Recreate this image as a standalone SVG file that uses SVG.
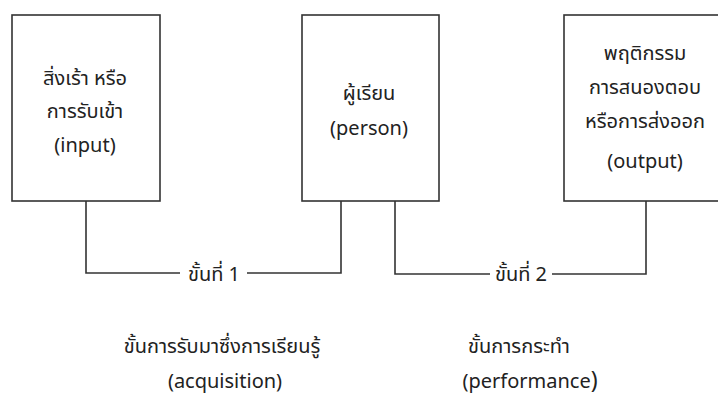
<svg xmlns="http://www.w3.org/2000/svg" width="718" height="398" viewBox="0 0 718 398">
<style>
.box{fill:#fff;stroke:#333;stroke-width:1.6}
.con{fill:none;stroke:#333;stroke-width:1.6}
text{font-family:"Noto Sans Thai","Tahoma","DejaVu Sans",sans-serif;font-size:20px;fill:#222;text-anchor:middle}
</style>
<rect width="718" height="398" fill="#fff"/>
<g id="connectors">
<path class="con" d="M86 201V273H180M247 273H341V201"/>
<path class="con" d="M395 201V274H490M552 274H646V201"/>
</g>
<g id="node-input">
<rect class="box" x="12" y="15" width="148" height="186"/>
<text x="85" y="85">สิ่งเร้า หรือ</text>
<text x="85" y="118">การรับเข้า</text>
<text x="85" y="152">(input)</text>
</g>
<g id="node-person">
<rect class="box" x="302" y="15" width="137" height="186"/>
<text x="369" y="100">ผู้เรียน</text>
<text x="369" y="135">(person)</text>
</g>
<g id="node-output">
<rect class="box" x="564" y="15" width="170" height="186"/>
<text x="645" y="60">พฤติกรรม</text>
<text x="645" y="94">การสนองตอบ</text>
<text x="645" y="128">หรือการส่งออก</text>
<text x="645" y="168">(output)</text>
</g>
<g id="labels">
<text x="214" y="281">ขั้นที่ 1</text>
<text x="521" y="281">ขั้นที่ 2</text>
<text x="222" y="353">ขั้นการรับมาซึ่งการเรียนรู้</text>
<text x="225" y="388">(acquisition)</text>
<text x="519" y="353">ขั้นการกระทำ</text>
<text x="530" y="388">(performance<tspan font-size="23">)</tspan></text>
</g>
</svg>
